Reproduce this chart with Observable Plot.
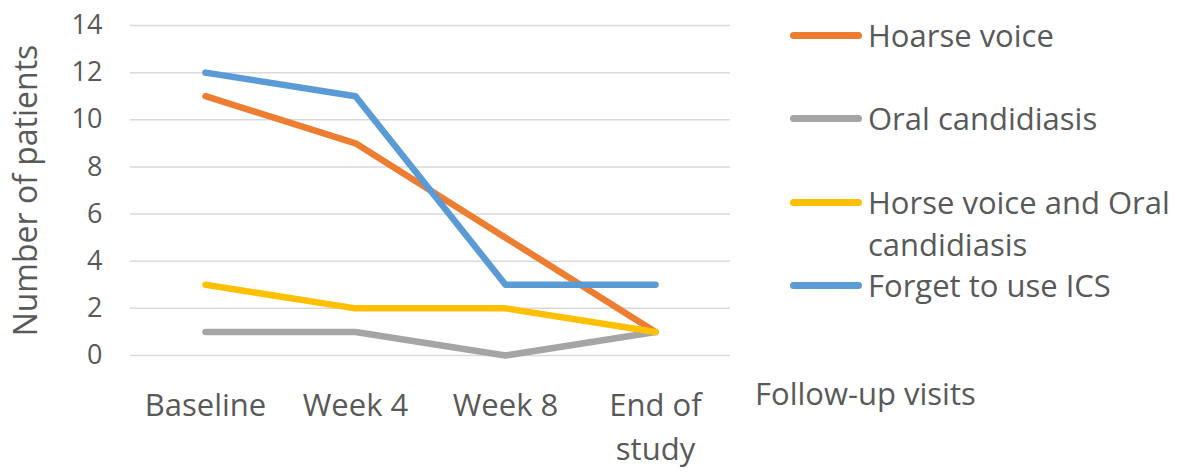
<!DOCTYPE html>
<html><head><meta charset="utf-8">
<script src="https://cdn.jsdelivr.net/npm/d3@7"></script>
<script src="https://cdn.jsdelivr.net/npm/@observablehq/plot@0.6"></script>
<style>
body{margin:0;background:#fff;font-family:"Open Sans",sans-serif;}
#wrap{position:relative;width:1189px;height:473px;overflow:hidden;}
.sw{position:absolute;left:790px;width:72px;height:7px;border-radius:4px;}
.lbl{position:absolute;left:868px;white-space:nowrap;font-size:31px;color:#595959;line-height:42px;}
#xlab{position:absolute;left:755px;top:372px;font-size:31px;color:#595959;white-space:nowrap;}
</style></head>
<body><div id="wrap"><div id="chart"></div><div id="xlab">Follow-up visits</div></div>
<script>
const visits = ["Baseline","Week 4","Week 8","End of study"];
const seriesNames = ["Hoarse voice","Oral candidiasis","Horse voice and Oral candidiasis","Forget to use ICS"];
const hoarse = [11,9,5,1];
const oral = [1,1,0,1];
const both = [3,2,2,1];
const forget = [12,11,3,3];
const colors = ["#ED7D31","#A5A5A5","#FFC000","#5B9BD5"];
const yTicks = [0,2,4,6,8,10,12,14];

const allSeries = [hoarse, oral, both, forget];
const data = [];
allSeries.forEach((vals,i)=>vals.forEach((v,j)=>data.push({series:seriesNames[i],visit:visits[j],value:v})));

const plot = Plot.plot({
  width: 760, height: 473,
  marginLeft: 130, marginRight: 30, marginTop: 25, marginBottom: 118,
  style:{fontFamily:"Open Sans, sans-serif", color:"#595959", background:"#fff"},
  x:{domain:visits, type:"band", padding:0},
  y:{domain:[0,14], ticks:yTicks},
  color:{domain:seriesNames, range:colors},
  marks:[
    Plot.gridY(yTicks,{stroke:"#d9d9d9", strokeOpacity:1, strokeWidth:1.5}),
    Plot.axisY(yTicks,{tickSize:0, tickPadding:28, fontSize:27, fill:"#595959", label:null}),
    Plot.text(["Number of patients"],{frameAnchor:"left", dx:-104, rotate:-90, fontSize:32, fill:"#595959", textAnchor:"middle"}),
    Plot.axisX({tickSize:0, tickPadding:30, fontSize:31, fill:"#595959", label:null, lineHeight:1.4,
      tickFormat:d=> d==="End of study" ? "End of\nstudy" : d}),
    Plot.line(data,{x:"visit", y:"value", z:"series", stroke:"series", strokeWidth:6.5, strokeLinecap:"round", strokeLinejoin:"round"})
  ]
});
document.getElementById("chart").appendChild(plot);

const wrap = document.getElementById("wrap");
const legendCenters = [35, 118, 202, 285];
const legendLabels = ["Hoarse voice","Oral candidiasis","Horse voice and Oral<br>candidiasis","Forget to use ICS"];
seriesNames.forEach((n,i)=>{
  const sw = document.createElement("div");
  sw.className="sw"; sw.style.top=(legendCenters[i]-3.5)+"px"; sw.style.background=colors[i];
  wrap.appendChild(sw);
  const lb = document.createElement("div");
  lb.className="lbl"; lb.style.top=(legendCenters[i]-21)+"px"; lb.innerHTML=legendLabels[i];
  wrap.appendChild(lb);
});
</script></body></html>
